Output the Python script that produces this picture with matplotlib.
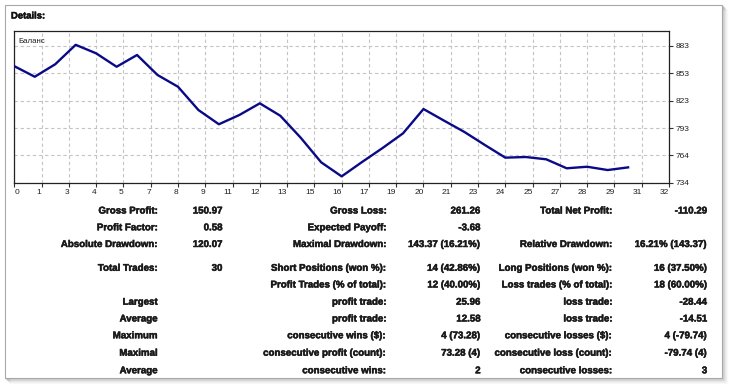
import matplotlib
matplotlib.use('Agg')
import matplotlib.pyplot as plt
import matplotlib.patheffects as pe
import numpy as np
from matplotlib.patches import Rectangle

# ---------------- data ----------------
balance = [861.2, 849.7, 863.3, 884.5, 875.2, 860.6, 873.4, 851.6, 838.8, 813.4,
           797.9, 808.0, 820.7, 807.2, 783.2, 756.4, 741.1, 756.8, 772.0, 788.0,
           814.5, 801.9, 789.5, 775.3, 761.5, 762.2, 759.7, 749.9, 751.6, 748.0,
           750.9]
trades = list(range(len(balance)))

x_tick_labels = ["0", "1", "3", "4", "5", "7", "8", "9", "11", "12", "13", "15", "16",
                 "17", "19", "20", "21", "23", "24", "25", "27", "28", "29", "31", "32"]
y_ticks = [734.2, 764.0, 793.8, 823.6, 853.4, 883.2]
y_tick_labels = ["734", "764", "793", "823", "853", "883"]

series_label = "Баланс"
title = "Details:"

col1_labels = ["Gross Profit:", "Profit Factor:", "Absolute Drawdown:", "Total Trades:", "",
               "Largest", "Average", "Maximum", "Maximal", "Average"]
col1_values = ["150.97", "0.58", "120.07", "30", "", "", "", "", "", ""]
col2_labels = ["Gross Loss:", "Expected Payoff:", "Maximal Drawdown:", "Short Positions (won %):",
               "Profit Trades (% of total):", "profit trade:", "profit trade:",
               "consecutive wins ($):", "consecutive profit (count):", "consecutive wins:"]
col2_values = ["261.26", "-3.68", "143.37 (16.21%)", "14 (42.86%)", "12 (40.00%)",
               "25.96", "12.58", "4 (73.28)", "73.28 (4)", "2"]
col3_labels = ["Total Net Profit:", "", "Relative Drawdown:", "Long Positions (won %):",
               "Loss trades (% of total):", "loss trade:", "loss trade:",
               "consecutive losses ($):", "consecutive loss (count):", "consecutive losses:"]
col3_values = ["-110.29", "", "16.21% (143.37)", "16 (37.50%)", "18 (60.00%)",
               "-28.44", "-14.51", "4 (-79.74)", "-79.74 (4)", "3"]

# ---------------- figure ----------------
W, H = 729, 384
fig = plt.figure(figsize=(W / 100, H / 100), dpi=100)
fig.patch.set_facecolor('white')

def fx(x):
    return x / W

def fy(y):
    return 1 - y / H

heavy = [pe.withStroke(linewidth=0.35, foreground='#1a1a1a')]

# panel with soft shadow
for i, a in enumerate([0.16, 0.11, 0.07, 0.04, 0.02]):
    fig.patches.append(Rectangle((fx(5 + i + 1), fy(378 + i + 1)), fx(717), (378 - 5) / H,
                                 transform=fig.transFigure, facecolor='none',
                                 edgecolor=(0, 0, 0, a), linewidth=1.0, zorder=-3))
fig.patches.append(Rectangle((fx(5), fy(378)), fx(717), (378 - 5) / H,
                             transform=fig.transFigure, facecolor='white',
                             edgecolor='#a8a8a8', linewidth=0.8, zorder=-2))

fig.text(fx(11), fy(16), title, fontsize=6.8, fontweight='bold',
         family='Liberation Sans', color='#111111', va='center', ha='left',
         path_effects=heavy)

# chart axes
left, right, top, bottom = 14.3, 669.0, 31.0, 182.7
ax = fig.add_axes([fx(left), fy(bottom), (right - left) / W, (bottom - top) / H])
ax.set_zorder(1)
ax.plot(trades, balance, color='#0a0a88', linewidth=1.7, solid_joinstyle='round', zorder=3)
ax.set_xlim(0, 32)
ax.set_ylim(734.2, 734.2 + (bottom - top) * 149.0 / 136.7)

ax.set_xticks(np.linspace(0, 32, len(x_tick_labels)))
ax.set_xticklabels(x_tick_labels)
ax.set_yticks(y_ticks)
ax.set_yticklabels(y_tick_labels)
ax.yaxis.tick_right()
ax.tick_params(axis='both', length=3, width=0.8, color='#333333', labelsize=6,
               labelcolor='#222222', pad=1.5)
for lab in ax.get_xticklabels():
    lab.set_family('Liberation Sans')
    lab.set_ha('right')
ax.get_xticklabels()[0].set_ha('left')
for lab in ax.get_yticklabels():
    lab.set_family('Liberation Sans')

ax.grid(True, color='#c4c4c4', linestyle=(0, (3, 2.5)), linewidth=0.8)
ax.set_axisbelow(True)
for sp in ax.spines.values():
    sp.set_color('#222222')
    sp.set_linewidth(0.9)

ax.text(0.006, 0.955, series_label, transform=ax.transAxes, fontsize=5.7,
        family='Liberation Sans', color='#222222', va='top', ha='left')

# statistics table
rows_y = [210.5, 227.3, 244.0, 267.8, 284.5, 301.7, 318.5, 335.3, 352.7, 370.3]
cols = [(157.7, col1_labels), (222.5, col1_values), (386.5, col2_labels),
        (480.7, col2_values), (612.5, col3_labels), (707.3, col3_values)]
for xr, texts in cols:
    for y, t in zip(rows_y, texts):
        if t:
            fig.text(fx(xr), fy(y), t, fontsize=7, fontweight='bold',
                     family='Liberation Sans', color='#1a1a1a',
                     ha='right', va='center', path_effects=heavy)

fig.savefig('out.png', dpi=100, facecolor='white')
